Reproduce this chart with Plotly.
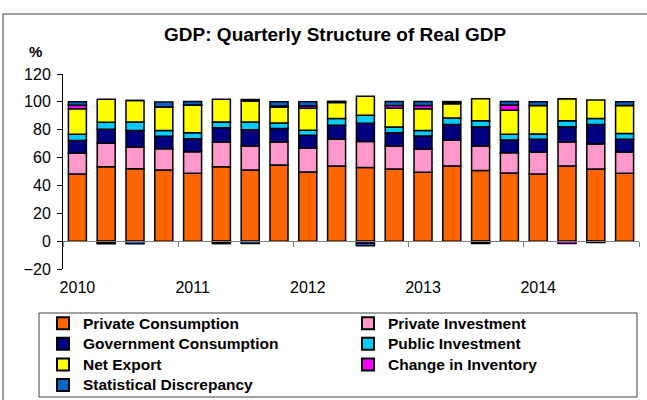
import plotly.graph_objects as go

quarters = ["2010Q1", "2010Q2", "2010Q3", "2010Q4",
            "2011Q1", "2011Q2", "2011Q3", "2011Q4",
            "2012Q1", "2012Q2", "2012Q3", "2012Q4",
            "2013Q1", "2013Q2", "2013Q3", "2013Q4",
            "2014Q1", "2014Q2", "2014Q3", "2014Q4"]
years = ["2010", "2011", "2012", "2013", "2014"]

private_consumption = [48.2, 53.5, 52.0, 51.1, 48.7, 53.5, 51.1, 54.7, 49.6, 54.0,
                       52.8, 51.8, 49.4, 54.0, 50.8, 48.9, 48.2, 54.0, 51.8, 48.7]
private_investment = [14.9, 16.8, 15.6, 15.3, 15.5, 17.7, 17.2, 16.5, 17.3, 19.4,
                      18.7, 16.5, 16.8, 18.4, 17.5, 14.6, 15.6, 17.2, 18.0, 15.1]
government_consumption = [9.1, 10.1, 11.8, 8.9, 9.4, 10.3, 11.6, 9.6, 9.1, 9.8,
                          13.2, 9.6, 9.3, 11.3, 13.9, 9.2, 9.4, 11.0, 13.9, 9.4]
public_investment = [4.5, 5.0, 6.2, 4.1, 4.3, 4.1, 5.7, 4.1, 3.6, 4.8,
                     5.7, 4.1, 3.9, 4.8, 4.3, 4.0, 3.8, 4.3, 4.3, 4.0]
net_export = [18.3, 16.5, 15.3, 16.8, 19.7, 16.3, 15.1, 11.3, 15.9, 11.5,
              13.7, 13.5, 15.6, 10.1, 15.7, 17.3, 20.3, 15.7, 13.4, 20.1]
change_in_inventory = [2.6, -0.9, 0.0, 0.3, 0.2, -0.9, 1.0, 0.8, 1.6, 0.5,
                       -1.5, 1.8, 2.3, 0.9, -0.8, 3.8, 0.0, -1.7, -0.5, 0.0]
statistical_discrepancy = [2.4, -1.0, -1.8, 3.4, 2.4, -0.9, -1.7, 3.0, 2.9, 0.4,
                           -1.8, 2.9, 2.9, 0.7, -0.9, 2.4, 2.7, 0.0, -0.5, 2.7]

series = [
    ("Private Consumption", private_consumption, "#FF6600"),
    ("Private Investment", private_investment, "#FF99CC"),
    ("Government Consumption", government_consumption, "#000080"),
    ("Public Investment", public_investment, "#00CCFF"),
    ("Net Export", net_export, "#FFFF00"),
    ("Change in Inventory", change_in_inventory, "#FF00FF"),
    ("Statistical Discrepancy", statistical_discrepancy, "#0066CC"),
]

x = list(range(len(quarters)))
year_pos = [i for i, q in enumerate(quarters) if q.endswith("Q1")]
boundaries = [p - 0.5 for p in year_pos] + [len(quarters) - 0.5]

ymin, ymax = -20, 120
font = "Arial, Liberation Sans, sans-serif"

# plot area in pixels
L, R, T, B = 63, 8, 74, 131
W, H = 647 - L - R, 400 - T - B


def px_x(px):
    return (px - L) / W


def px_y(py):
    return (400 - B - py) / H


fig = go.Figure()
for name, vals, color in series:
    # legend row height follows legend font size, the span makes the text a bit wider
    fig.add_trace(go.Bar(x=x, y=vals, name='<span style="font-size:15.5px">' + name + '</span>',
                         customdata=quarters,
                         marker=dict(color=color, line=dict(color="black", width=1.5)),
                         hovertemplate="%{customdata}<br>" + name + ": %{y}<extra></extra>"))

# axis at zero with year boundary ticks
fig.add_trace(go.Scatter(x=boundaries, y=[0] * len(boundaries), xaxis="x2", mode="none",
                         showlegend=False, hoverinfo="skip"))

fig.update_layout(
    width=647, height=400,
    margin=dict(l=L, r=R, t=T, b=B, autoexpand=False),
    paper_bgcolor="white", plot_bgcolor="white",
    barmode="relative", bargap=0.375,
    font=dict(family=font, size=16, color="black"),
    title=dict(text="<b>GDP: Quarterly Structure of Real GDP</b>", x=0.518, xanchor="center",
               y=0.915, yanchor="middle", font=dict(size=19)),
    xaxis=dict(range=[-0.5, len(quarters) - 0.5], tickvals=year_pos, ticktext=years,
               showline=False, showgrid=False, zeroline=False, ticks="",
               ticklabelstandoff=7),
    xaxis2=dict(range=[-0.5, len(quarters) - 0.5], overlaying="x", anchor="free",
                position=(0 - ymin) / (ymax - ymin),
                showline=True, linecolor="#808080", linewidth=1,
                tickvals=boundaries, ticks="outside", ticklen=5, tickcolor="#808080",
                showticklabels=False, showgrid=False, zeroline=False),
    yaxis=dict(range=[ymin, ymax], dtick=20, showgrid=False, zeroline=False,
               showline=True, linecolor="black", linewidth=1,
               ticks="outside", ticklen=5, tickcolor="black", ticklabelstandoff=3),
    legend=dict(orientation="h", x=px_x(43), xanchor="left", y=px_y(308), yanchor="top",
                traceorder="normal", borderwidth=0, bgcolor="rgba(0,0,0,0)",
                font=dict(size=13.5, weight="bold"), entrywidth=260,
                itemsizing="constant", tracegroupgap=0),
    showlegend=True,
)

fig.add_annotation(text="<b>%</b>", xref="paper", yref="paper", x=px_x(35),
                   y=px_y(52), showarrow=False, font=dict(size=15),
                   xanchor="center", yanchor="middle")

# chart frame and legend box
fig.add_shape(type="rect", xref="paper", yref="paper", x0=px_x(3), x1=px_x(660),
              y0=px_y(410), y1=px_y(14), line=dict(color="#808080", width=1.5),
              layer="below")
fig.add_shape(type="rect", xref="paper", yref="paper", x0=px_x(39), x1=px_x(637),
              y0=px_y(397), y1=px_y(313), line=dict(color="#404040", width=1),
              layer="below")

fig.write_html("out.html", config={"displayModeBar": False},
               post_script="document.body.style.margin='0';")
